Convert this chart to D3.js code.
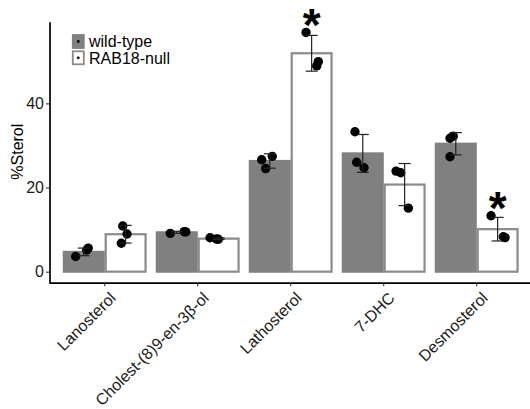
<!DOCTYPE html>
<html>
<head>
<meta charset="utf-8">
<script src="https://cdn.jsdelivr.net/npm/d3@7"></script>
<style>
  html, body { margin: 0; padding: 0; background: #fff; }
  svg { display: block; font-family: "Liberation Sans", Arial, sans-serif; }
</style>
</head>
<body>
<svg id="chart" width="530" height="409"></svg>
<script>
// ---- data ----
const categories = ["Lanosterol", "Cholest-(8)9-en-3\u03b2-ol", "Lathosterol", "7-DHC", "Desmosterol"];
const groups = ["wild-type", "RAB18-null"];
const wtMean  = [4.7, 9.35, 26.3, 28.1, 30.4];
const wtSd    = [0.9, 0.25, 1.7, 4.5, 2.65];
const nullMean = [8.9, 7.85, 51.9, 20.7, 10.1];
const nullSd   = [2.1, 0.2, 4.25, 5.0, 2.8];
// replicate values (3 per bar)
const wtPoints = [[3.6, 5.6, 5.15], [9.1, 9.5, 9.45], [26.6, 24.5, 27.4], [33.25, 26.0, 24.7], [31.7, 32.2, 27.3]];
const nullPoints = [[10.85, 8.95, 6.75], [8.05, 7.7, 7.75], [56.85, 49.9, 48.9], [23.9, 23.5, 15.1], [13.3, 8.3, 8.1]];
// horizontal jitter of replicates, in category-step units
const wtJitter = [[-0.087, 0.048, 0.031], [-0.07, 0.08, 0.097], [-0.087, -0.044, 0.027], [-0.084, -0.066, 0.013], [-0.062, -0.027, -0.062]];
const nullJitter = [[-0.031, 0.015, -0.046], [-0.092, -0.003, -0.022], [-0.06, 0.072, 0.055], [-0.092, -0.042, 0.04], [-0.071, 0.061, 0.08]];
// significance markers
const sigMarks = [{cat: "Lathosterol", group: "RAB18-null", y: 60.9}, {cat: "Desmosterol", group: "RAB18-null", y: 17.5}];
const yTicks = [0, 20, 40];

// ---- build table ----
const rows = [];
categories.forEach((c, i) => {
  rows.push({cat: c, group: groups[0], mean: wtMean[i], sd: wtSd[i], pts: wtPoints[i], jit: wtJitter[i]});
  rows.push({cat: c, group: groups[1], mean: nullMean[i], sd: nullSd[i], pts: nullPoints[i], jit: nullJitter[i]});
});

const svg = d3.select("#chart");
const plotLeft = 48.9, plotRight = 532.5, plotTop = 21.7, plotBottom = 282.7;

const x = d3.scaleBand().domain(categories).range([plotLeft, plotRight]).paddingInner(0.1).paddingOuter(0.15);
const xg = d3.scaleBand().domain(groups).range([0, x.bandwidth()]);
const y = d3.scaleLinear().domain([-2.62, 59.4]).range([plotBottom, plotTop]);
const step = x.step();

const fill = {"wild-type": "#808080", "RAB18-null": "#ffffff"};
const outline = "#8a8a8a";

// bars
svg.append("g").selectAll("rect").data(rows).join("rect")
  .attr("x", d => x(d.cat) + xg(d.group) + 1)
  .attr("width", xg.bandwidth() - 2)
  .attr("y", d => y(d.mean))
  .attr("height", d => y(0) - y(d.mean))
  .attr("fill", d => fill[d.group])
  .attr("stroke", d => d.group === "wild-type" ? fill[d.group] : outline)
  .attr("stroke-width", 2.2);

// points
const pts = [];
rows.forEach(r => r.pts.forEach((v, k) => pts.push({cx: x(r.cat) + xg(r.group) + xg.bandwidth() / 2 + r.jit[k] * step, v})));
svg.append("g").selectAll("circle").data(pts).join("circle")
  .attr("cx", d => d.cx).attr("cy", d => y(d.v)).attr("r", 4.7).attr("fill", "#000");

// error bars
const eb = svg.append("g").attr("stroke", "#222").attr("stroke-width", 1.2).attr("fill", "none");
rows.forEach(r => {
  const cx = x(r.cat) + xg(r.group) + xg.bandwidth() / 2;
  const y1 = y(r.mean - r.sd), y2 = y(r.mean + r.sd);
  eb.append("line").attr("x1", cx).attr("x2", cx).attr("y1", y1).attr("y2", y2);
  eb.append("line").attr("x1", cx - 6).attr("x2", cx + 6).attr("y1", y1).attr("y2", y1);
  eb.append("line").attr("x1", cx - 6).attr("x2", cx + 6).attr("y1", y2).attr("y2", y2);
});

// significance asterisks
svg.append("g").selectAll("text").data(sigMarks).join("text")
  .attr("x", d => x(d.cat) + xg(d.group) + xg.bandwidth() / 2)
  .attr("y", d => y(d.y) + 25.5)
  .attr("text-anchor", "middle")
  .attr("font-size", 46)
  .attr("font-weight", "bold")
  .attr("fill", "#000")
  .text("*");

// axes
const yAxis = svg.append("g").attr("transform", `translate(${plotLeft + 0.6},0)`)
  .call(d3.axisLeft(y).tickValues(yTicks).tickSize(3.5).tickSizeOuter(0).tickPadding(2));
const xAxis = svg.append("g").attr("transform", `translate(0,${plotBottom})`)
  .call(d3.axisBottom(x).tickSize(3.5).tickSizeOuter(0).tickFormat(() => ""));
[yAxis, xAxis].forEach(a => {
  a.select(".domain").attr("stroke", "#000").attr("stroke-width", 1.7);
  a.selectAll(".tick line").attr("stroke", "#333").attr("stroke-width", 1.1);
});
yAxis.selectAll(".tick text").attr("font-size", 16).attr("fill", "#1a1a1a").attr("font-family", "Liberation Sans, Arial, sans-serif");

// rotated x labels
svg.append("g").selectAll("text").data(categories).join("text")
  .attr("transform", d => `translate(${x(d) + x.bandwidth() / 2 + 12},${299}) rotate(-45)`)
  .attr("text-anchor", "end")
  .attr("font-size", 16)
  .attr("fill", "#1a1a1a")
  .text(d => d);

// y label
svg.append("text")
  .attr("transform", "translate(23.3,151.7) rotate(-90)")
  .attr("text-anchor", "middle")
  .attr("font-size", 16)
  .attr("fill", "#000")
  .text("%Sterol");

// legend
const lg = svg.append("g");
groups.forEach((g, i) => {
  const top = 35 + i * 16.3;
  lg.append("rect").attr("x", 72.8).attr("y", top).attr("width", 11).attr("height", 13)
    .attr("fill", fill[g]).attr("stroke", i === 0 ? fill[g] : outline).attr("stroke-width", 1.8);
  lg.append("circle").attr("cx", 78.3).attr("cy", top + 6.5).attr("r", 1.4).attr("fill", "#000");
  lg.append("text").attr("x", 89).attr("y", top + 12.3).attr("font-size", 16).attr("fill", "#000").text(g);
});
</script>
</body>
</html>
